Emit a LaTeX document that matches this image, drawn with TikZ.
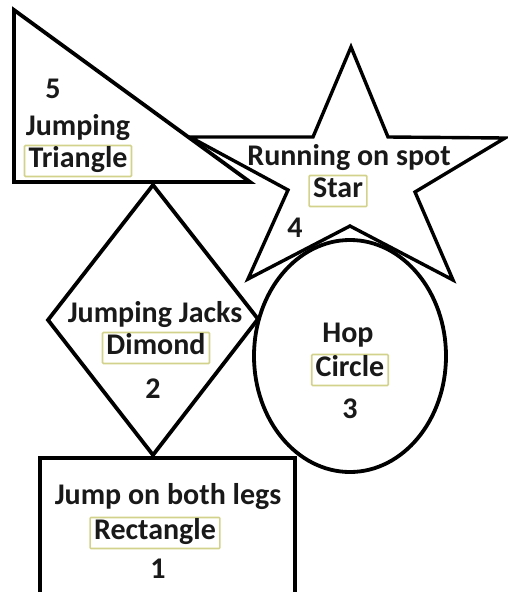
\documentclass[tikz,border=0pt]{standalone}
\usepackage{fontspec}
\setmainfont{Carlito}
\usepackage{tikz}
\usetikzlibrary{positioning}

\begin{document}
\begin{tikzpicture}[x=1pt, y=-1pt,
outline/.style={draw, line width=3.8pt, line join=miter},
lbl/.style={inner sep=0pt, text=black!90, text height=19pt, text depth=6pt, font=\fontsize{30}{34}\selectfont\bfseries},
tag/.style={lbl, draw={rgb,255:red,210;green,210;blue,140}, line width=1.6pt, inner xsep=4pt, inner ysep=3pt, rounded corners=1pt}
]
\useasboundingbox (0,0) rectangle (508,592);

% Shapes
\draw[outline] (14,10) -- (14,182) -- (250,182) -- cycle;
\draw[outline, line width=3.4pt] (351,47) -- (388,137) -- (505,138) -- (415,192) -- (453,280)
  -- (350,226) -- (248,279) -- (288,190) -- (190,137) -- (313,137) -- cycle;
\draw[outline] (153,185) -- (258,319) -- (153,455) -- (48,320) -- cycle;
\draw[outline] (350,356) ellipse [x radius=96, y radius=116];
\draw[outline] (40,592) -- (40,458) -- (295,458) -- (295,592);

% Triangle
\node[lbl] (tri_num) at (53,92) {5};
\node[lbl] (tri_name) at (78,129) {Jumping};
\node[tag] (tri_tag) at (78,161) {Triangle};

% Star
\node[lbl] (star_name) at (349,159) {Running on spot};
\node[tag] (star_tag) at (338,191) {Star};
\node[lbl] (star_num) at (295,231) {4};

% Diamond
\node[lbl] (dia_name) at (155,316) {Jumping Jacks};
\node[tag] (dia_tag) at (156,348) {Dimond};
\node[lbl] (dia_num) at (153,392) {2};

% Circle
\node[lbl] (circ_name) at (348,336) {Hop};
\node[tag] (circ_tag) at (350,370) {Circle};
\node[lbl] (circ_num) at (350,412) {3};

% Rectangle
\node[lbl] (rect_name) at (168,498) {Jump on both legs};
\node[tag] (rect_tag) at (155,533) {Rectangle};
\node[lbl] (rect_num) at (158,572) {1};

\end{tikzpicture}
\end{document}
